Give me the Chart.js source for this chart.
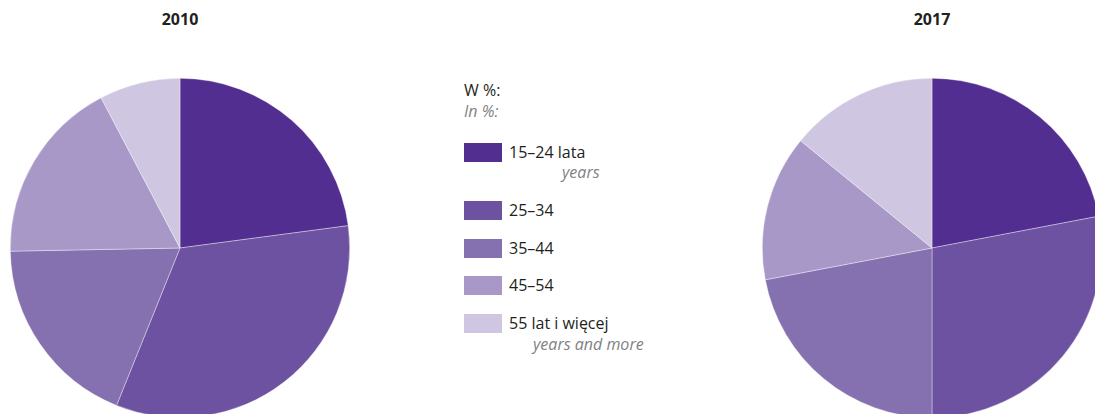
<!DOCTYPE html>
<html>
<head>
<meta charset="utf-8">
<script src="https://cdn.jsdelivr.net/npm/chart.js"></script>
<style>
  html,body{margin:0;padding:0;}
  body{width:1095px;height:414px;overflow:hidden;position:relative;background:#fff;font-family:"Open Sans",sans-serif;color:#231f20;}
  .title{position:absolute;top:8px;width:100px;text-align:center;font-weight:bold;font-size:16px;}
  .pie{position:absolute;top:78px;width:340px;height:340px;}
  #legend{position:absolute;left:464px;top:79px;font-size:16px;}
  .lh{position:absolute;left:0;white-space:nowrap;}
  .it{font-style:italic;color:#808285;}
  .row{position:absolute;left:0;white-space:nowrap;}
  .box{position:absolute;left:0;width:38px;height:19px;}
  .lab{position:absolute;left:45px;line-height:19px;}
  .sub{position:absolute;white-space:nowrap;}
</style>
</head>
<body>
<div class="title" style="left:130px">2010</div>
<div class="title" style="left:882px">2017</div>
<div class="pie" style="left:10px"><canvas id="p2010"></canvas></div>
<div class="pie" style="left:762px"><canvas id="p2017"></canvas></div>
<div id="legend"></div>
<script>
// DATA
const categories=["15–24 lata","25–34","35–44","45–54","55 lat i więcej"];
const subLabels=["years","","","","years and more"];
const values2010=[22.9,33.2,18.6,17.6,7.7];
const values2017=[22.0,28.0,22.0,13.9,14.1];
const colors=["#522e91","#6c52a1","#8571b0","#a898c7","#cfc6e2"];

// LEGEND
const legend=document.getElementById("legend");
legend.innerHTML=`<div class="lh" style="top:0">W %:</div><div class="lh it" style="top:21px">In %:</div>`;
const rowTops=[64,122,160,197,235];
const subPos=[[98,82],[0,0],[0,0],[0,0],[69,254]];
categories.forEach((c,i)=>{
  let html=`<div class="row" style="top:${rowTops[i]}px"><div class="box" style="background:${colors[i]}"></div><div class="lab">${c}</div></div>`;
  if(subLabels[i]) html+=`<div class="sub it" style="left:${subPos[i][0]}px;top:${subPos[i][1]}px">${subLabels[i]}</div>`;
  legend.innerHTML+=html;
});

// PIES
function pie(id,data){
  new Chart(document.getElementById(id),{
    type:"pie",
    data:{
      labels:categories,
      datasets:[{data,backgroundColor:colors,borderColor:"rgba(255,255,255,0.6)",borderWidth:0.6}]
    },
    options:{
      responsive:true,
      maintainAspectRatio:false,
      animation:false,
      layout:{padding:0},
      plugins:{legend:{display:false},tooltip:{enabled:false}}
    }
  });
}
pie("p2010",values2010);
pie("p2017",values2017);
</script>
</body>
</html>
